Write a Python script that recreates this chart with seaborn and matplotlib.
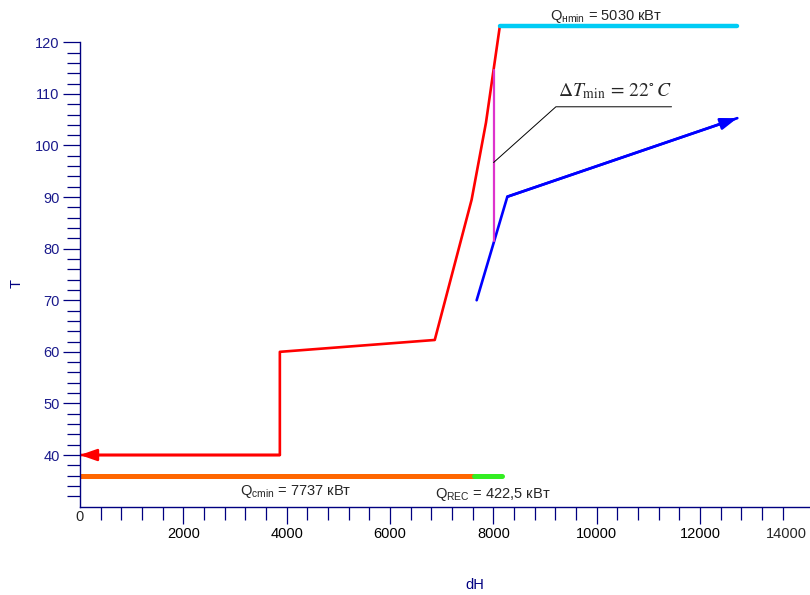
import numpy as np
import pandas as pd
import matplotlib
matplotlib.use("Agg")
import matplotlib.pyplot as plt
import seaborn as sns

# --- data ---
hot_dh = [8127, 7858, 7580, 6866, 3868, 3868, 0]
hot_t = [123.2, 104.45, 89.5, 62.3, 60.0, 40.0, 40.0]

cold_dh = [7677, 8271, 12722]
cold_t = [70.0, 90.07, 105.3]

qh_dh = [8127, 12713]          # Q_hmin bar
qh_t = [123.2, 123.2]
qc_dh = [0, 7624]              # Q_cmin bar
qc_t = [36.0, 36.0]
qrec_dh = [7624, 8160]         # Q_REC bar
qrec_t = [36.0, 36.0]

dt_dh = [8005, 8005]           # dT_min marker
dt_t = [81.5, 114.7]

x_major = [2000, 4000, 6000, 8000, 10000, 12000]
y_major = [40, 50, 60, 70, 80, 90, 100, 110, 120]

navy = "#000080"

sns.set_style("ticks")
plt.rcParams["font.family"] = ["Liberation Sans", "DejaVu Sans"]
plt.rcParams["mathtext.fontset"] = "custom"
plt.rcParams["mathtext.rm"] = "Liberation Sans"
plt.rcParams["mathtext.it"] = "Liberation Sans:italic"
plt.rcParams["mathtext.bf"] = "Liberation Sans:bold"

fig = plt.figure(figsize=(8.1, 5.95), dpi=100)
ax = fig.add_axes([80 / 810, (595 - 506.6) / 595, 730 / 810, 506.6 / 595])

hot = pd.DataFrame({"dH": hot_dh, "T": hot_t})
cold = pd.DataFrame({"dH": cold_dh, "T": cold_t})

line_kw = dict(sort=False, estimator=None, ax=ax)
sns.lineplot(data=hot, x="dH", y="T", color="#ff0000", lw=1.9, **line_kw)
sns.lineplot(data=cold, x="dH", y="T", color="#0000ff", lw=1.9, **line_kw)
sns.lineplot(x=qh_dh, y=qh_t, color="#00ccf5", lw=3.2, solid_capstyle="round", **line_kw)
sns.lineplot(x=qc_dh, y=qc_t, color="#ff6600", lw=3.6, **line_kw)
sns.lineplot(x=qrec_dh, y=qrec_t, color="#33ee22", lw=3.6, solid_capstyle="round", **line_kw)
sns.lineplot(x=dt_dh, y=dt_t, color="#dd33cc", lw=1.6, **line_kw)

# arrow heads at the ends of the composite curves
ax.annotate("", xy=(hot_dh[-1], hot_t[-1]), xytext=(hot_dh[-2], hot_t[-2]),
            arrowprops=dict(arrowstyle="-|>,head_length=1.0,head_width=0.35",
                            color="#ff0000", lw=1.9, shrinkA=0, shrinkB=0))
ax.annotate("", xy=(cold_dh[-1], cold_t[-1]), xytext=(cold_dh[-2], cold_t[-2]),
            arrowprops=dict(arrowstyle="-|>,head_length=1.0,head_width=0.35",
                            color="#0000ff", lw=1.9, shrinkA=0, shrinkB=0))

# leader line for dT_min label
ax.plot([8005, 9211, 11449], [96.7, 107.5, 107.5], color="black", lw=0.7)
ax.text(9257, 109.45, r"$\Delta T_{\mathrm{min}} \,=\, 22^{\circ}\,C$", fontsize=14,
        math_fontfamily="stix", ha="left", va="baseline")

ax.text(9097, 124.3, "Q$_{\\mathrm{нmin}}$ = 5030 кВт", fontsize=10.5, va="baseline")
ax.text(3097, 32.25, "Q$_{\\mathrm{cmin}}$ = 7737 кВт", fontsize=10.5, va="baseline")
ax.text(6871, 31.6, "Q$_{\\mathrm{REC}}$ = 422,5 кВт", fontsize=10.5, va="baseline")

# axes
ax.set_xlim(0, 14129)
ax.set_ylim(30, 128.2)
for s in ["top", "right"]:
    ax.spines[s].set_visible(False)
ax.spines["left"].set_bounds(30, 120)
ax.spines["left"].set_color(navy)
ax.spines["bottom"].set_color(navy)
ax.spines["left"].set_linewidth(1.0)
ax.spines["bottom"].set_linewidth(1.0)

ax.set_xticks(x_major)
ax.set_xticks([v for v in range(400, 13601, 400) if v % 2000], minor=True)
ax.set_yticks(y_major)
ax.set_yticks([v for v in range(32, 120, 2) if v % 10], minor=True)
ax.tick_params(axis="both", which="both", bottom=True, left=True)
ax.tick_params(axis="both", which="major", length=12.2, width=0.9, color=navy,
               direction="out", labelsize=10.5, pad=2.5)
ax.tick_params(axis="both", which="minor", length=9.4, width=0.9, color=navy,
               direction="out")
ax.tick_params(axis="y", labelcolor="#1a1a8c")
ax.tick_params(axis="x", labelcolor="black")

ax.text(0, 27.98, "0", fontsize=10.5, ha="center", va="center")
ax.text(13678, 24.7, "14000", fontsize=10.5, ha="center", va="center")

ax.set_xlabel("")
ax.set_ylabel("")
fig.text(17 / 810, 1 - 283 / 595, "T", rotation=90, color=navy, fontsize=10.5,
         ha="center", va="center")
fig.text(475 / 810, 1 - 585 / 595, "dH", color=navy, fontsize=10.5,
         ha="center", va="center")

fig.savefig("out.png", dpi=100)
